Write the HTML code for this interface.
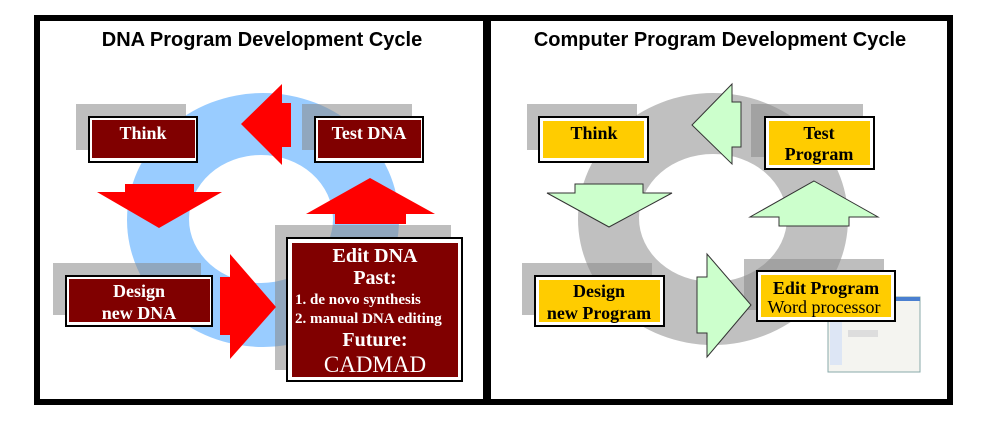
<!DOCTYPE html>
<html><head><style>
html,body{margin:0;padding:0;background:#fff;}
svg{display:block;}
.t{font-family:"Liberation Serif",serif;font-weight:bold;}
.h{font-family:"Liberation Sans",sans-serif;font-weight:bold;font-size:20px;}
</style></head><body>
<svg width="1007" height="421" viewBox="0 0 1007 421" xmlns="http://www.w3.org/2000/svg">
<rect x="0" y="0" width="1007" height="421" fill="#fff"/>
<rect x="34" y="15" width="919" height="390" fill="#000"/>
<rect x="40" y="21" width="443" height="378" fill="#fff"/>
<rect x="491" y="21" width="456" height="378" fill="#fff"/>
<text class="h" x="262" y="46" text-anchor="middle">DNA Program Development Cycle</text>
<text class="h" x="720" y="46" text-anchor="middle">Computer Program Development Cycle</text>

<!-- LEFT -->
<path fill="#99ccff" fill-rule="evenodd" d="M127,220 a136,127 0 1,0 272,0 a136,127 0 1,0 -272,0 Z M189,219 a72,64 0 1,0 144,0 a72,64 0 1,0 -144,0 Z"/>
<g fill="#888" fill-opacity="0.55">
<rect x="76" y="104" width="110" height="46"/>
<rect x="302" y="104" width="110" height="46"/>
<rect x="53" y="263" width="148" height="52"/>
<rect x="275" y="225" width="176" height="145"/>
</g>
<polygon fill="#ff0000" points="241,124 282,84 282,103 291,103 291,147 282,147 282,165"/>
<polygon fill="#ff0000" points="125,184 194,184 194,192 222,192 159,228 97,192 125,192"/>
<polygon fill="#ff0000" points="370,178 435,214 406,214 406,224 335,224 335,214 306,214"/>
<polygon fill="#ff0000" points="220,277 230,277 230,254 276,307 230,359 230,335 220,335"/>
<rect x="88" y="116" width="110" height="47" fill="#000"/><rect x="90" y="118" width="106" height="43" fill="#fff"/><rect x="92" y="120" width="103" height="38" fill="#800000"/>
<text class="t" x="143" y="139" fill="#fff" font-size="18" text-anchor="middle">Think</text>
<rect x="314" y="116" width="110" height="47" fill="#000"/><rect x="316" y="118" width="106" height="43" fill="#fff"/><rect x="318" y="120" width="103" height="38" fill="#800000"/>
<text class="t" x="369" y="139" fill="#fff" font-size="18" text-anchor="middle">Test DNA</text>
<rect x="65" y="275" width="148" height="52" fill="#000"/><rect x="67" y="277" width="144" height="48" fill="#fff"/><rect x="69" y="279" width="141" height="43" fill="#800000"/>
<text class="t" x="139" y="297" fill="#fff" font-size="18" text-anchor="middle">Design</text>
<text class="t" x="139" y="319" fill="#fff" font-size="18" text-anchor="middle">new DNA</text>
<rect x="286" y="237" width="177" height="145" fill="#000"/><rect x="288" y="239" width="173" height="141" fill="#fff"/><rect x="292" y="243" width="166" height="134" fill="#800000"/>
<text class="t" x="375" y="262" fill="#fff" font-size="20" text-anchor="middle">Edit DNA</text>
<text class="t" x="375" y="284" fill="#fff" font-size="20" text-anchor="middle">Past:</text>
<text class="t" x="295" y="304" fill="#fff" font-size="15">1. de novo synthesis</text>
<text class="t" x="295" y="323" fill="#fff" font-size="15">2. manual DNA editing</text>
<text class="t" x="375" y="346" fill="#fff" font-size="20" text-anchor="middle">Future:</text>
<text x="375" y="372" fill="#fff" font-size="23" text-anchor="middle" font-family="Liberation Serif,serif">CADMAD</text>

<!-- RIGHT -->
<path fill="#c0c0c0" fill-rule="evenodd" d="M578,219 a135,126 0 1,0 270,0 a135,126 0 1,0 -270,0 Z M639,218 a74,64 0 1,0 148,0 a74,64 0 1,0 -148,0 Z"/>
<g fill="#888" fill-opacity="0.55">
<rect x="527" y="104" width="110" height="46"/>
<rect x="751" y="104" width="112" height="53"/>
<rect x="522" y="263" width="130" height="52"/>
<rect x="744" y="259" width="140" height="51"/>
</g>
<g fill="#ccffcc" stroke="#333" stroke-width="1">
<polygon points="692,125 732,84 732,102 741,102 741,147 732,147 732,164"/>
<polygon points="575,184 643,184 643,193 672,193 609,227 547,193 575,193"/>
<polygon points="814,181 878,217 849,217 849,226 779,226 779,217 750,217"/>
<polygon points="697,277 707,277 707,254 751,305 707,357 707,333 697,333"/>
</g>
<rect x="828" y="297" width="92" height="75" fill="#f4f4f0" stroke="#8aa" stroke-width="1"/>
<rect x="828" y="297" width="92" height="4" fill="#4a7fd0"/>
<rect x="830" y="305" width="12" height="60" fill="#dde6f5"/>
<rect x="848" y="330" width="30" height="7" fill="#ddd"/>
<rect x="538" y="116" width="111" height="47" fill="#000"/><rect x="540" y="118" width="107" height="43" fill="#fff"/><rect x="543" y="121" width="101" height="37" fill="#ffcc00"/>
<text class="t" x="594" y="139" fill="#000" font-size="18" text-anchor="middle">Think</text>
<rect x="764" y="116" width="111" height="54" fill="#000"/><rect x="766" y="118" width="107" height="50" fill="#fff"/><rect x="769" y="121" width="101" height="44" fill="#ffcc00"/>
<text class="t" x="819" y="139" fill="#000" font-size="18" text-anchor="middle">Test</text>
<text class="t" x="819" y="160" fill="#000" font-size="18" text-anchor="middle">Program</text>
<rect x="534" y="275" width="131" height="52" fill="#000"/><rect x="536" y="277" width="127" height="48" fill="#fff"/><rect x="539" y="280" width="121" height="42" fill="#ffcc00"/>
<text class="t" x="599" y="297" fill="#000" font-size="18" text-anchor="middle">Design</text>
<text class="t" x="599" y="319" fill="#000" font-size="18" text-anchor="middle">new Program</text>
<rect x="756" y="270" width="140" height="52" fill="#000"/><rect x="758" y="272" width="136" height="48" fill="#fff"/><rect x="761" y="275" width="130" height="42" fill="#ffcc00"/>
<text class="t" x="826" y="294" fill="#000" font-size="18" text-anchor="middle">Edit Program</text>
<text x="824" y="313" fill="#000" font-size="18" text-anchor="middle" font-family="Liberation Serif,serif">Word processor</text>
</svg>
</body></html>
